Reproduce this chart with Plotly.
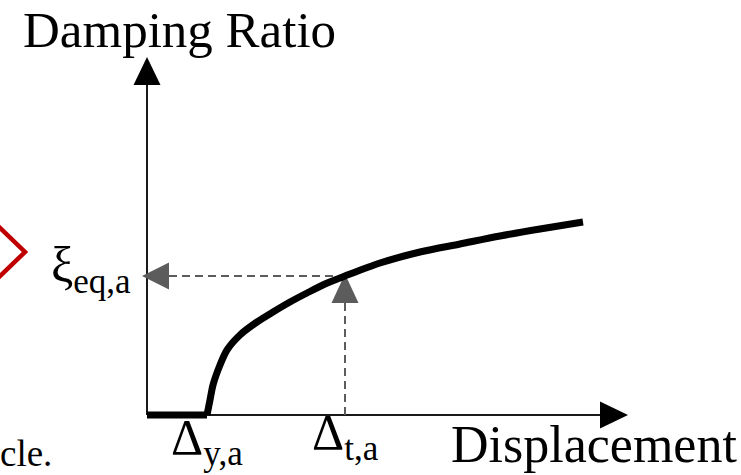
import plotly.graph_objects as go

W, H = 741, 475

# Damping ratio vs displacement (schematic units)
displacement = [0.00, 0.60, 0.63, 0.66, 0.73, 0.80, 0.93, 1.10, 1.26, 1.43,
                1.60, 1.78, 1.98, 2.33, 2.73, 3.13, 3.53, 3.93, 4.36]
damping = [0.00, 0.00, 0.15, 0.30, 0.50, 0.65, 0.80, 0.93, 1.03, 1.13,
           1.22, 1.31, 1.39, 1.52, 1.63, 1.71, 1.79, 1.86, 1.93]

delta_y = 0.60    # yield displacement
delta_t = 1.98    # target displacement
xi_eq = 1.39      # equivalent damping at the target displacement

x_axis_end = 4.81
y_axis_end = 3.58

x_label = "Displacement"
y_label = "Damping Ratio"
xi_label = "ξ<sub>eq,a</sub>"
dy_label = "Δ<sub>y,a</sub>"
dt_label = "Δ<sub>t,a</sub>"

FONT = "Liberation Serif, Times New Roman, serif"
INK = "#000000"
GREY = "#5c5c5c"
HEAD_L, HEAD_W = 0.28, 0.135


def px(x):
    return x / W


def py(y):
    return 1 - y / H


fig = go.Figure()
# flat branch up to yield, then the rising branch
fig.add_trace(go.Scatter(
    x=displacement[:2], y=damping[:2], mode="lines",
    line=dict(color="#000000", width=7),
    hoverinfo="skip", showlegend=False,
))
fig.add_trace(go.Scatter(
    x=displacement[1:], y=damping[1:], mode="lines",
    line=dict(color="#000000", width=7, shape="spline", smoothing=0.8),
    hoverinfo="skip", showlegend=False,
))

shapes = []
# axes with arrowheads
shapes.append(dict(type="line", xref="x", yref="y", x0=0, y0=0, x1=0,
                   y1=y_axis_end - HEAD_L, line=dict(color="#1a1a1a", width=2), layer="below"))
shapes.append(dict(type="path", xref="x", yref="y",
                   path=f"M {-HEAD_W},{y_axis_end - HEAD_L} L 0,{y_axis_end} L {HEAD_W},{y_axis_end - HEAD_L} Z",
                   fillcolor="#000000", line=dict(width=0), layer="below"))
shapes.append(dict(type="line", xref="x", yref="y", x0=0, y0=0,
                   x1=x_axis_end - HEAD_L, y1=0, line=dict(color="#1a1a1a", width=2), layer="below"))
shapes.append(dict(type="path", xref="x", yref="y",
                   path=f"M {x_axis_end - HEAD_L},{-HEAD_W} L {x_axis_end},0 L {x_axis_end - HEAD_L},{HEAD_W} Z",
                   fillcolor="#000000", line=dict(width=0), layer="below"))

# dashed guides to the axes
shapes.append(dict(type="line", xref="x", yref="y", x0=0.22, y0=xi_eq, x1=delta_t, y1=xi_eq,
                   line=dict(color=GREY, width=2, dash="8px,5px"), layer="below"))
shapes.append(dict(type="path", xref="x", yref="y",
                   path=f"M 0.22,{xi_eq - HEAD_W} L -0.05,{xi_eq} L 0.22,{xi_eq + HEAD_W} Z",
                   fillcolor=GREY, line=dict(width=0), layer="below"))
shapes.append(dict(type="line", xref="x", yref="y", x0=delta_t, y0=0, x1=delta_t, y1=xi_eq - 0.26,
                   line=dict(color=GREY, width=2, dash="8px,5px"), layer="below"))
shapes.append(dict(type="path", xref="x", yref="y",
                   path=f"M {delta_t - HEAD_W},{xi_eq - 0.27} L {delta_t},{xi_eq + 0.02} L {delta_t + HEAD_W},{xi_eq - 0.27} Z",
                   fillcolor=GREY, line=dict(width=0), layer="below"))

# red chevron at the left edge
shapes.append(dict(type="path", xref="paper", yref="paper",
                   path=f"M {px(-4)},{py(224)} L {px(25)},{py(252)} L {px(-4)},{py(280)}",
                   line=dict(color="#c00000", width=4.5)))

annotations = [
    dict(text=y_label, xref="paper", yref="paper", x=px(21), y=py(30),
         xanchor="left", yanchor="middle", showarrow=False,
         font=dict(family=FONT, size=51, color=INK)),
    dict(text=x_label, xref="paper", yref="paper", x=px(449), y=py(444),
         xanchor="left", yanchor="middle", showarrow=False,
         font=dict(family=FONT, size=52, color=INK)),
    dict(text="cle.", xref="paper", yref="paper", x=px(-2), y=py(453),
         xanchor="left", yanchor="middle", showarrow=False,
         font=dict(family=FONT, size=37, color=INK)),
    dict(text=xi_label, xref="paper", yref="y", x=px(133), y=xi_eq, yshift=7,
         xanchor="right", yanchor="middle", showarrow=False,
         font=dict(family=FONT, size=50, color=INK)),
    dict(text=dy_label, xref="x", yref="paper", x=delta_y, y=py(441),
         xanchor="center", yanchor="middle", showarrow=False,
         font=dict(family=FONT, size=50, color=INK)),
    dict(text=dt_label, xref="x", yref="paper", x=delta_t, y=py(436),
         xanchor="center", yanchor="middle", showarrow=False,
         font=dict(family=FONT, size=50, color=INK)),
]

fig.update_layout(
    width=W, height=H,
    margin=dict(l=0, r=0, t=0, b=0),
    paper_bgcolor="white", plot_bgcolor="white",
    xaxis=dict(range=[-1.47, 5.94], visible=False, fixedrange=True),
    yaxis=dict(range=[-0.60, 4.15], visible=False, fixedrange=True),
    shapes=shapes, annotations=annotations,
    showlegend=False,
)

fig.write_html("out.html", config={"displayModeBar": False})
